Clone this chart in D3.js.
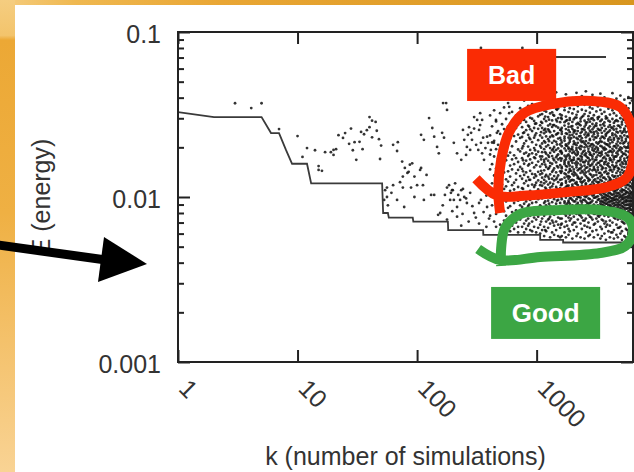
<!DOCTYPE html>
<html>
<head>
<meta charset="utf-8">
<script src="https://cdn.jsdelivr.net/npm/d3@7"></script>
<style>
  html, body { margin: 0; padding: 0; overflow: hidden; background: #fff; }
  svg { display: block; }
</style>
</head>
<body>
<svg id="chart" width="634" height="472"></svg>
<script>
// ---- axis content ----
const xTickValues = [1, 10, 100, 1000];
const yTickValues = [0.001, 0.01, 0.1];
const xTitle = "k (number of simulations)";
const yTitle = "E (energy)";
const badLabel = "Bad";
const goodLabel = "Good";

// ---- lowest energy found so far, by number of simulations ----
const bestK = [1, 2, 5, 6, 7, 8, 9, 12, 13, 51, 52, 57, 58, 92, 93, 181, 182, 357, 358, 1070, 1071, 1665, 1666, 6300];
const bestE = [.0327, .0305, .0305, .0244, .0244, .0193, .0159, .0159, .0121, .0121, .0080, .0080, .0075, .0075, .0071, .0071, .0063, .0063, .0059, .0059, .0055, .0055, .0053, .0053];

// ---- energy of each simulation: k values and the energies sampled at each k (up to k ~ 1600) ----
const sampleK = [
  3, 4.1, 5, 7, 10, 11, 12, 14, 15, 16, 17, 19, 20, 21, 22, 24, 25, 27, 28, 29, 30, 31, 33, 34, 35, 36, 38, 40, 42, 45, 46, 48, 49, 50,
  53, 54, 56, 57, 61, 63, 68, 69, 72, 75, 76, 78, 79, 83, 85, 87, 89, 91, 95, 100, 106, 108, 112, 114, 120, 126, 131, 134, 139, 147,
  150, 152, 156, 162, 164, 165, 168, 171, 175, 178, 185, 189, 192, 196, 197, 199, 203, 208, 216, 221, 229, 234, 240, 242, 248, 257,
  261, 266, 270, 272, 278, 283, 288, 290, 300, 310, 312, 318, 325, 330, 337, 342, 350, 357, 360, 363, 373, 380, 385, 392, 400,
  408, 414, 424, 439, 441, 457, 458, 465, 476, 495, 514, 534,
  555, 577, 590, 600, 623, 648, 673, 700, 728, 760,
  756, 786, 817, 849, 883, 917, 953, 991, 1030, 1070,
  1112, 1156, 1201, 1248, 1297, 1348, 1401, 1456, 1514, 1573
];
const sampleE = [
  [.037], [.0346], [.037], [.0258], [.0234], [.0175], [.0198], [.0192], [.0154, .0146], [.0144], [.0187], [.0187], [.018, .0193],
  [.0195], [.0237], [.0228], [.0244], [.021], [.026], [.0192], [.0215], [.0168], [.0216], [.0248], [.0195], [.024], [.0254],
  [.0265, .0305], [.029, .023], [.0285], [.0252], [.0224], [.017], [.0205],
  [.0096], [.011], [.010, .0114], [.0089], [.0106], [.0207, .0118], [.019, .0096], [.0215], [.0123], [.0164], [.0133, .0114],
  [.0087], [.015], [.014], [.0142], [.0157], [.0114], [.016], [.0133, .0100], [.0118], [.0146], [.015, .0238], [.0118],
  [.0222, .0096], [.0136], [.0301], [.0103], [.0262], [.0232, .0103], [.0201],
  [.0078], [.0184], [.0080], [.0245], [.0089], [.0371], [.0229], [.0103], [.0371], [.0337, .0114, .0073], [.0118], [.0096],
  [.0106], [.011], [.0082], [.011], [.0213, .0096], [.0121], [.0184, .0087, .0076], [.0103], [.0096], [.0168, .011, .0067],
  [.0079], [.0112, .0255], [.0222, .0100], [.0098, .018],
  [.0201, .0092], [.0238], [.0071], [.0265], [.0106, .0193], [.0245], [.0222], [.0088], [.0305, .008, .026], [.0075], [.0207],
  [.0293], [.0193], [.0255, .0092, .0069], [.0273, .0322], [.0213, .0096, .080], [.0184, .0293], [.0229], [.0081], [.0168],
  [.0198], [.0066, .0102], [.0232, .0087], [.0213], [.0074],
  [.0312, .0236, .0181, .0147, .0102, .0077],
  [.0193],
  [.0268, .0214, .0158, .0121, .0089],
  [.0213],
  [.0335, .0219, .0176, .0135, .0108, .0071],
  [.0293],
  [.0287, .0195, .0149, .0126, .0093, .0079, .0066],
  [.0245],
  [.0251, .0207, .0171, .0138, .0097, .0084],
  [.0322, .0241, .0183, .0152, .0114, .0091, .0068],
  [.0276, .0198, .0163, .0119, .0105, .0086, .0063],
  [.0349, .0258, .0224, .0174, .0141, .0112, .0082, .0072],
  [.0297, .0249, .0191, .0167, .0128, .0116, .0094, .0077, .0065],
  [.0371, .0268, .0212, .0178, .0143, .0124, .0101, .0086, .0069],
  [.0352, .0322],
  [.0263, .0226, .0186, .0155, .0133, .0109, .0088, .0074, .0062],
  [.0328, .0247, .0203, .0169, .0147, .0118, .0097, .0081, .0067],
  [.0291, .0234, .0179, .0158, .0122, .0111, .0092, .0075, .0064],
  [.0312, .0262, .0217, .0172, .0139, .0127, .0099, .0083, .0070],
  [.0274, .0239, .0194, .0163, .0146, .0115, .0095, .0079, .0066, .0061],
  [.0345, .0281, .0228, .0189, .0152, .0134, .0107, .0089, .0073],
  [.080],
  [.0318, .0265, .0231, .0197, .0172, .0148, .0129, .0113, .0098, .0087, .0076, .0066],
  [.0384, .0293, .0246, .0211, .0183, .0159, .0136, .0121, .0104, .0091, .0078, .0069, .0061],
  [.0285, .0254, .0219, .0186, .0166, .0141, .0125, .0106, .0094, .0083, .0072, .0064],
  [.0356, .0271, .0238, .0202, .0177, .0155, .0132, .0117, .0101, .0088, .0074, .0067],
  [.0302, .0257, .0224, .0193, .0169, .0144, .0127, .0109, .0096, .0085, .0077, .0063],
  [.0366, .0298, .0251, .0215, .0184, .0161, .0138, .0119, .0103, .0092, .0081, .0071, .0062],
  [.0289, .0262, .0229, .0198, .0174, .0151, .0131, .0115, .0099, .0086, .0075, .0066],
  [.0336, .0279, .0243, .0207, .0181, .0156, .0134, .0122, .0107, .0093, .0082, .0073, .0061],
  [.0402, .0308, .0259, .0221, .0188, .0164, .0142, .0126, .0111, .0097, .0084, .0076, .0065],
  [.0315, .0272, .0236, .0204, .0176, .0153, .0137, .0118, .0102, .0089, .0079, .0068, .0060],
  [.0372, .0318, .0281, .0262, .0229, .0211, .0187, .0176, .0158, .0139, .0131, .0117, .0104, .0098, .0086, .0074, .0063],
  [.0334, .0297, .0254, .0243, .0218, .0195, .0168, .0163, .0145, .0127, .0121, .0109, .0092, .0083, .0077, .0066, .0058],
  [.0412, .0329, .0288, .0249, .0233, .0202, .0183, .0171, .0152, .0136, .0124, .0112, .0101, .0089, .0079, .0071, .0062],
  [.0352, .0305, .0271, .0257, .0224, .0206, .0179, .0166, .0148, .0133, .0119, .0106, .0095, .0081, .0073, .0065],
  [.0391, .0321, .0276, .0247, .0231, .0198, .0185, .0161, .0154, .0137, .0122, .0114, .0099, .0088, .0076, .0069, .0057],
  [.0326, .0291, .0266, .0236, .0213, .0192, .0177, .0159, .0142, .0129, .0116, .0103, .0093, .0084, .0072, .0061],
  [.0363, .0311, .0273, .0251, .0219, .0201, .0188, .0167, .0149, .0134, .0126, .0108, .0097, .0087, .0078, .0067, .0059],
  [.0431, .0342, .0294, .0268, .0239, .0216, .0193, .0174, .0162, .0141, .0128, .0115, .0102, .0091, .0082, .0071, .0063],
  [.0344, .0301, .0263, .0244, .0226, .0197, .0181, .0169, .0151, .0135, .0123, .0111, .0096, .0085, .0075, .0068, .0058],
  [.0383, .0317, .0284, .0255, .0228, .0208, .0189, .0172, .0156, .0143, .0127, .0113, .0104, .0092, .0083, .0074, .0065, .0057]
];

// ---- the crowded late runs, k ~ 770 to 6300 ----
const coreK = [
  770, 866, 970, 1090, 1180, 1270, 1375, 1480, 1600,
  1622, 1712, 1758, 1849, 1893, 1990, 2047, 2155, 2210, 2330, 2389, 2517, 2581, 2712, 2790, 2930, 3011, 3160, 3252, 3415,
  3510, 3690, 3796, 3985, 4101, 4305, 4430, 4650, 4780, 5020, 5170, 5420, 5580, 5860, 6030, 6280,
  1800, 1940, 2100, 2270, 2450, 2650, 2860, 3080, 3330,
  3600, 3890, 4200, 4540, 4900, 5300, 5720, 6150
];
const coreE = [
  [.0296, .0244, .0203, .0167, .0143, .0112, .0097, .0084],
  [.0331, .0267, .0229, .0181, .0158, .0127, .0106, .0090, .0069],
  [.0278, .0236, .0192, .0172, .0137, .0118, .0101, .0079],
  [.0349, .0285, .0247, .0199, .0169, .0144, .0123, .0105, .0087, .0071],
  [.0307, .0259, .0214, .0187, .0157, .0133, .0114, .0094, .0080, .0063],
  [.0366, .0294, .0252, .0218, .0175, .0150, .0129, .0107, .0091, .0074],
  [.0315, .0273, .0233, .0196, .0171, .0145, .0120, .0103, .0086, .0070],
  [.0338, .0287, .0241, .0208, .0178, .0154, .0131, .0112, .0095, .0081],
  [.0359, .0302, .0256, .0221, .0190, .0166, .0140, .0118, .0100, .0085, .0068],

  [.0388, .0312, .0297, .0262, .0249, .0241, .0214, .0203, .0186, .0183, .0171, .0152, .0149, .0143, .0128, .0121, .0119, .0106, .0101, .0097, .0088, .0083, .0074, .0069, .0058],
  [.0351, .0336, .0284, .0271, .0232, .0226, .0219, .0197, .0178, .0166, .0162, .0158, .0139, .0131, .0113, .0111, .0103, .0094, .0092, .0086, .0079, .0066, .0061],
  [.0419, .0307, .0289, .0258, .0243, .0208, .0205, .0191, .0174, .0169, .0154, .0146, .0137, .0125, .0122, .0115, .0107, .0099, .0089, .0081, .0077, .0071, .0057],
  [.0365, .0327, .0278, .0266, .0254, .0229, .0211, .0199, .0196, .0181, .0163, .0159, .0141, .0134, .0129, .0117, .0108, .0102, .0095, .0093, .0084, .0075, .0064, .0059],
  [.0345, .0301, .0293, .0247, .0236, .0222, .0216, .0189, .0176, .0171, .0155, .0148, .0144, .0132, .0124, .0112, .0105, .0098, .0091, .0087, .0078, .0072, .0062],
  [.0397, .0321, .0285, .0269, .0259, .0238, .0201, .0194, .0185, .0167, .0161, .0152, .0138, .0127, .0119, .0116, .0104, .0096, .0089, .0082, .0080, .0068, .0056],
  [.0372, .0341, .0296, .0253, .0246, .0231, .0217, .0209, .0188, .0173, .0168, .0147, .0142, .0135, .0126, .0114, .0109, .0101, .0094, .0085, .0076, .0070, .0063],
  [.0428, .0315, .0303, .0276, .0241, .0228, .0206, .0198, .0192, .0179, .0164, .0156, .0151, .0136, .0123, .0120, .0111, .0102, .0097, .0090, .0083, .0079, .0066, .0058],
  [.0356, .0329, .0281, .0263, .0251, .0224, .0213, .0187, .0182, .0170, .0160, .0145, .0133, .0130, .0118, .0107, .0100, .0092, .0088, .0081, .0073, .0060],
  [.0383, .0298, .0287, .0272, .0244, .0234, .0220, .0204, .0195, .0177, .0165, .0157, .0149, .0140, .0128, .0124, .0113, .0106, .0099, .0095, .0086, .0077, .0069, .0057],
  [.0409, .0338, .0305, .0258, .0249, .0227, .0215, .0202, .0183, .0175, .0169, .0153, .0144, .0131, .0122, .0117, .0110, .0103, .0093, .0090, .0082, .0075, .0064],
  [.0362, .0318, .0290, .0267, .0255, .0239, .0211, .0200, .0191, .0180, .0162, .0155, .0146, .0137, .0126, .0115, .0108, .0101, .0096, .0087, .0084, .0072, .0067, .0056],
  [.0437, .0333, .0282, .0274, .0246, .0230, .0218, .0207, .0184, .0178, .0166, .0150, .0141, .0134, .0121, .0119, .0109, .0100, .0094, .0089, .0080, .0074, .0061],
  [.0377, .0309, .0295, .0261, .0242, .0236, .0212, .0196, .0189, .0172, .0163, .0158, .0143, .0129, .0125, .0114, .0105, .0098, .0091, .0085, .0078, .0070, .0058],
  [.0349, .0324, .0286, .0268, .0252, .0225, .0221, .0203, .0186, .0181, .0167, .0154, .0147, .0138, .0127, .0118, .0111, .0104, .0097, .0092, .0083, .0076, .0065, .0059],
  [.0416, .0343, .0300, .0277, .0257, .0233, .0209, .0199, .0193, .0176, .0170, .0159, .0145, .0132, .0123, .0116, .0107, .0102, .0095, .0088, .0081, .0073, .0062],
  [.0368, .0313, .0292, .0264, .0247, .0240, .0223, .0205, .0190, .0182, .0164, .0152, .0148, .0135, .0126, .0120, .0112, .0103, .0099, .0090, .0086, .0079, .0068, .0057],
  [.0391, .0330, .0279, .0270, .0250, .0229, .0214, .0201, .0187, .0174, .0168, .0157, .0142, .0136, .0124, .0113, .0108, .0100, .0093, .0087, .0082, .0074, .0063],
  [.0354, .0304, .0297, .0259, .0243, .0235, .0210, .0197, .0192, .0179, .0161, .0151, .0146, .0130, .0122, .0117, .0106, .0101, .0096, .0089, .0084, .0077, .0071, .0059],
  [.0423, .0337, .0288, .0273, .0254, .0226, .0218, .0204, .0185, .0177, .0165, .0156, .0140, .0133, .0127, .0115, .0110, .0104, .0094, .0091, .0085, .0078, .0066, .0056],

  [.0374, .0319, .0294, .0262, .0245, .0232, .0216, .0202, .0188, .0181, .0166, .0153, .0147, .0136, .0125, .0119, .0111, .0107, .0102, .0098, .0094, .0090, .0087, .0083, .0080, .0073, .0064, .0058],
  [.0401, .0328, .0283, .0270, .0251, .0227, .0213, .0199, .0193, .0175, .0162, .0158, .0141, .0131, .0122, .0116, .0109, .0104, .0100, .0096, .0092, .0088, .0085, .0081, .0077, .0069, .0060],
  [.0359, .0308, .0299, .0258, .0240, .0235, .0209, .0195, .0184, .0170, .0164, .0149, .0143, .0128, .0120, .0113, .0108, .0103, .0099, .0095, .0091, .0086, .0082, .0079, .0071, .0066, .0055],
  [.0385, .0343, .0290, .0266, .0248, .0224, .0219, .0205, .0187, .0178, .0160, .0154, .0139, .0133, .0124, .0115, .0110, .0105, .0101, .0097, .0093, .0089, .0084, .0080, .0076, .0062],
  [.0368, .0316, .0286, .0273, .0253, .0230, .0211, .0201, .0190, .0172, .0167, .0151, .0145, .0130, .0127, .0117, .0112, .0106, .0100, .0094, .0090, .0087, .0083, .0078, .0072, .0067, .0057],
  [.0426, .0335, .0297, .0261, .0243, .0237, .0215, .0196, .0186, .0179, .0163, .0156, .0142, .0135, .0121, .0118, .0111, .0103, .0098, .0095, .0091, .0086, .0081, .0079, .0070, .0061],
  [.0352, .0322, .0281, .0268, .0256, .0228, .0222, .0203, .0191, .0174, .0169, .0152, .0147, .0132, .0126, .0114, .0108, .0104, .0099, .0096, .0092, .0088, .0084, .0080, .0075, .0063, .0056],
  [.0394, .0311, .0292, .0259, .0249, .0233, .0210, .0198, .0185, .0176, .0161, .0155, .0140, .0129, .0123, .0116, .0110, .0105, .0101, .0097, .0093, .0089, .0085, .0082, .0077, .0068, .0059],
  [.0377, .0339, .0288, .0271, .0246, .0226, .0217, .0205, .0189, .0181, .0165, .0150, .0144, .0134, .0122, .0119, .0112, .0106, .0102, .0096, .0091, .0087, .0083, .0079, .0073, .0065, .0057],
  [.0412, .0324, .0300, .0264, .0251, .0234, .0212, .0200, .0192, .0173, .0168, .0157, .0141, .0136, .0125, .0115, .0109, .0103, .0100, .0095, .0090, .0086, .0082, .0078, .0074, .0066, .0060],
  [.0363, .0314, .0285, .0275, .0244, .0229, .0220, .0197, .0187, .0177, .0162, .0153, .0146, .0131, .0124, .0117, .0111, .0107, .0101, .0097, .0092, .0088, .0084, .0080, .0071, .0062, .0055],
  [.0389, .0331, .0294, .0260, .0254, .0236, .0214, .0202, .0183, .0171, .0166, .0151, .0143, .0133, .0128, .0118, .0110, .0104, .0099, .0094, .0090, .0086, .0083, .0079, .0076, .0069, .0058],
  [.0356, .0320, .0283, .0269, .0247, .0225, .0218, .0199, .0190, .0180, .0163, .0158, .0139, .0130, .0121, .0114, .0108, .0105, .0100, .0096, .0093, .0089, .0085, .0081, .0077, .0064, .0057],
  [.0403, .0344, .0296, .0263, .0250, .0231, .0211, .0204, .0188, .0175, .0167, .0154, .0145, .0135, .0126, .0119, .0112, .0106, .0102, .0098, .0094, .0090, .0086, .0082, .0078, .0072, .0061],
  [.0371, .0309, .0290, .0272, .0242, .0238, .0216, .0196, .0185, .0178, .0160, .0152, .0142, .0132, .0123, .0116, .0109, .0104, .0101, .0095, .0091, .0087, .0084, .0080, .0075, .0067, .0059],
  [.0384, .0326, .0287, .0258, .0253, .0227, .0213, .0201, .0193, .0172, .0164, .0156, .0147, .0137, .0127, .0120, .0113, .0107, .0103, .0099, .0095, .0091, .0088, .0083, .0079, .0070, .0063, .0056],

  [.0292, .0241, .0204, .0178, .0153, .0133, .0117, .0104, .0091, .0080, .0067],
  [.0267, .0227, .0195, .0166, .0144, .0126, .0110, .0098, .0087, .0074],
  [.0303, .0252, .0211, .0183, .0160, .0139, .0121, .0106, .0094, .0083, .0070],
  [.0276, .0233, .0199, .0170, .0148, .0129, .0113, .0100, .0089, .0078],
  [.0310, .0258, .0217, .0188, .0163, .0141, .0124, .0108, .0096, .0085, .0072],
  [.0283, .0236, .0202, .0174, .0151, .0131, .0115, .0102, .0092, .0081, .0066],
  [.0298, .0247, .0208, .0180, .0156, .0136, .0119, .0105, .0093, .0084, .0075],
  [.0271, .0230, .0196, .0168, .0146, .0128, .0112, .0099, .0088, .0079, .0069],
  [.0306, .0255, .0214, .0185, .0161, .0140, .0123, .0107, .0097, .0086, .0076],

  [.0276, .0231, .0197, .0172, .0150, .0131, .0117, .0106, .0099, .0093, .0089, .0085, .0081, .0072],
  [.0301, .0245, .0208, .0179, .0157, .0138, .0121, .0109, .0102, .0097, .0091, .0086, .0080, .0068],
  [.0264, .0222, .0189, .0168, .0146, .0127, .0114, .0104, .0098, .0094, .0088, .0083, .0079, .0061],
  [.0288, .0239, .0203, .0176, .0152, .0134, .0119, .0108, .0101, .0096, .0090, .0085, .0081, .0074],
  [.0270, .0226, .0194, .0165, .0148, .0129, .0115, .0105, .0099, .0093, .0089, .0084, .0078, .0065],
  [.0295, .0249, .0211, .0182, .0159, .0140, .0122, .0110, .0103, .0097, .0092, .0087, .0082, .0070],
  [.0281, .0233, .0200, .0173, .0151, .0132, .0118, .0107, .0100, .0095, .0090, .0085, .0080, .0063],
  [.0267, .0228, .0192, .0169, .0147, .0128, .0116, .0106, .0098, .0094, .0089, .0084, .0079, .0066]
];

// ---- hand-drawn callouts, in (k, E) coordinates ----
const badLoop = [[311, .0129], [468, .0102], [830, .0102], [1780, .0107], [3900, .0115], [5720, .0132], [6540, .0193],
  [6150, .0277], [4995, .0351], [2920, .0382], [1350, .0366], [790, .0323], [590, .0248], [505, .0168], [477, .0110], [495, .0080]];
const goodLoop = [[324, .00484], [495, .00415], [1070, .00433], [3398, .00458], [5510, .00505], [6400, .00614], [5830, .00746],
  [3398, .00834], [1573, .00834], [728, .00788], [544, .00649], [505, .00491], [505, .00382]];
const badBox = { k: [262, 1457], E: [.079, .0382] };
const goodBox = { k: [416, 3398], E: [.00285, .00138] };

// ---- layout ----
const W = 634, H = 472;
const plot = { left: 178, right: 633, top: 32, bottom: 362 };
const FONT = "'Liberation Sans', Arial, Helvetica, sans-serif";
const INK = "#222";
const RED = "#fa2b04";
const GREEN = "#3ca644";

const x = d3.scaleLog().domain([1, 6400]).range([plot.left, plot.right]);
const y = d3.scaleLog().domain([0.001, 0.1]).range([plot.bottom, plot.top]);

const svg = d3.select("#chart");
const defs = svg.append("defs");

// slide backdrop: orange gradients along the top and left edges
const gTop = defs.append("linearGradient").attr("id", "bgTop").attr("x1", 0).attr("x2", 1).attr("y1", 0).attr("y2", 0);
[[0, "#f5cd80"], [0.12, "#efb850"], [0.35, "#e9a634"], [1, "#d8961f"]].forEach(([o, c]) =>
  gTop.append("stop").attr("offset", o).attr("stop-color", c));
const gLeft = defs.append("linearGradient").attr("id", "bgLeft").attr("x1", 0).attr("x2", 0).attr("y1", 0).attr("y2", 1);
[[0, "#f5cd80"], [0.075, "#f3c46c"], [0.085, "#eca835"], [0.45, "#efb043"], [1, "#f9d394"]].forEach(([o, c]) =>
  gLeft.append("stop").attr("offset", o).attr("stop-color", c));

svg.append("rect").attr("width", W).attr("height", H).attr("fill", "#fff");
svg.append("rect").attr("x", 0).attr("y", 0).attr("width", W).attr("height", 5).attr("fill", "url(#bgTop)");
svg.append("rect").attr("x", 0).attr("y", 0).attr("width", 15).attr("height", H).attr("fill", "url(#bgLeft)");

defs.append("clipPath").attr("id", "plotClip").append("rect")
  .attr("x", plot.left).attr("y", plot.top)
  .attr("width", plot.right - plot.left).attr("height", plot.bottom - plot.top);

// ---- scatter of simulation energies ----
const toPoints = (ks, es) => ks.flatMap((k, i) => es[i].map(e => ({ k, e })));
const samples = toPoints(sampleK, sampleE).concat(toPoints(coreK, coreE));
svg.append("g").attr("clip-path", "url(#plotClip)")
  .selectAll("circle").data(samples).join("circle")
  .attr("cx", d => x(d.k)).attr("cy", d => y(d.e)).attr("r", 1.4)
  .attr("fill", "#111").attr("fill-opacity", 0.85);

// ---- best-so-far curve ----
const bestLine = d3.line().x(d => x(d[0])).y(d => y(d[1]));
svg.append("path").datum(bestK.map((k, i) => [k, bestE[i]]))
  .attr("clip-path", "url(#plotClip)")
  .attr("d", bestLine).attr("fill", "none").attr("stroke", "#3a3a3a").attr("stroke-width", 1.8);

// key sample for the curve
svg.append("line").attr("x1", 556).attr("x2", 606).attr("y1", 57).attr("y2", 57)
  .attr("stroke", "#3a3a3a").attr("stroke-width", 2);

// ---- axes (gnuplot style: inward ticks mirrored on all sides) ----
const yMinor = y.ticks().filter(v => !yTickValues.some(t => Math.abs(t - v) / t < 1e-6));
function styleAxis(g) {
  g.select(".domain").remove();
  g.selectAll(".tick line").attr("stroke", INK).attr("stroke-width", 2);
  g.selectAll("text").attr("fill", "#333").style("font-family", FONT).style("font-size", "25px");
}
svg.append("g").attr("transform", `translate(${plot.left},0)`)
  .call(d3.axisLeft(y).tickValues(yTickValues).tickFormat(d3.format("")).tickSize(-12).tickSizeOuter(0).tickPadding(17))
  .call(styleAxis)
  .call(g => g.selectAll("text").attr("dy", "0.4em"));
svg.append("g").attr("transform", `translate(${plot.left},0)`)
  .call(d3.axisLeft(y).tickValues(yMinor).tickFormat("").tickSize(-6).tickSizeOuter(0)).call(styleAxis);
svg.append("g").attr("transform", `translate(${plot.right},0)`)
  .call(d3.axisRight(y).tickValues(yTickValues).tickFormat("").tickSize(-12).tickSizeOuter(0)).call(styleAxis);
svg.append("g").attr("transform", `translate(${plot.right},0)`)
  .call(d3.axisRight(y).tickValues(yMinor).tickFormat("").tickSize(-6).tickSizeOuter(0)).call(styleAxis);
svg.append("g").attr("transform", `translate(0,${plot.top})`)
  .call(d3.axisTop(x).tickValues(xTickValues).tickFormat("").tickSize(-12).tickSizeOuter(0)).call(styleAxis);
svg.append("g").attr("transform", `translate(0,${plot.bottom})`)
  .call(d3.axisBottom(x).tickValues(xTickValues).tickFormat(d3.format("")).tickSize(-12).tickSizeOuter(0))
  .call(styleAxis)
  .call(g => g.selectAll("text")
    .attr("x", 0).attr("y", 0).attr("dy", 0)
    .attr("text-anchor", "start")
    .attr("transform", "translate(-1,28) rotate(45)"));

svg.append("rect").attr("x", plot.left).attr("y", plot.top)
  .attr("width", plot.right - plot.left).attr("height", plot.bottom - plot.top)
  .attr("fill", "none").attr("stroke", INK).attr("stroke-width", 2);

// axis titles
svg.append("text").attr("x", (plot.left + plot.right) / 2).attr("y", 465)
  .attr("text-anchor", "middle").attr("fill", "#333")
  .style("font-family", FONT).style("font-size", "25px").text(xTitle);
svg.append("text").attr("transform", `translate(50,${(plot.top + plot.bottom) / 2}) rotate(-90)`)
  .attr("text-anchor", "middle").attr("fill", "#333")
  .style("font-family", FONT).style("font-size", "25px").text(yTitle);

// ---- callouts ----
const loopLine = d3.line().x(d => x(d[0])).y(d => y(d[1])).curve(d3.curveCatmullRom.alpha(0.5));
svg.append("path").datum(badLoop).attr("d", loopLine)
  .attr("fill", "none").attr("stroke", RED).attr("stroke-width", 10)
  .attr("stroke-linecap", "butt").attr("stroke-linejoin", "round");
svg.append("path").datum(goodLoop).attr("d", loopLine)
  .attr("fill", "none").attr("stroke", GREEN).attr("stroke-width", 10)
  .attr("stroke-linecap", "butt").attr("stroke-linejoin", "round");

function calloutBox(box, color, label, size) {
  const x0 = x(box.k[0]), x1 = x(box.k[1]);
  const y0 = y(box.E[0]), y1 = y(box.E[1]);
  svg.append("rect").attr("x", x0).attr("y", y0).attr("width", x1 - x0).attr("height", y1 - y0).attr("fill", color);
  svg.append("text").attr("x", (x0 + x1) / 2).attr("y", (y0 + y1) / 2).attr("dy", "0.36em")
    .attr("text-anchor", "middle").attr("fill", "#fff")
    .style("font-family", FONT).style("font-weight", "bold").style("font-size", size + "px").text(label);
}
calloutBox(badBox, RED, badLabel, 25);
calloutBox(goodBox, GREEN, goodLabel, 26);

// pointer arrow from the slide margin
const arrow = svg.append("g").attr("fill", "#000");
arrow.append("line").attr("x1", -2).attr("y1", 245).attr("x2", 106).attr("y2", 260)
  .attr("stroke", "#000").attr("stroke-width", 9);
arrow.append("polygon").attr("points", "104,237 98,282 147,264");
</script>
</body>
</html>
